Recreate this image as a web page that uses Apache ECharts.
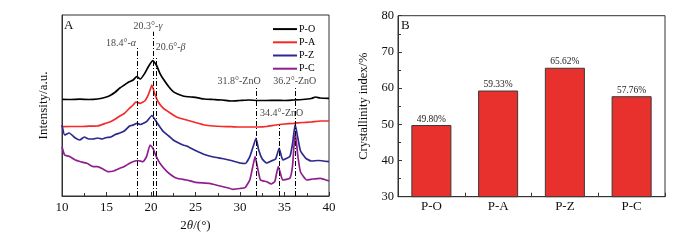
<!DOCTYPE html>
<html><head><meta charset="utf-8">
<script src="https://cdn.jsdelivr.net/npm/echarts@6/dist/echarts.min.js"></script>
<style>html,body{margin:0;padding:0;background:#fff}#c{width:700px;height:240px}</style>
</head><body><div id="c"></div>
<script>
// ---- Panel A: XRD patterns (2θ, relative intensity in arbitrary units) ----
const poTheta = [10,11,12,13,14,15,15.5,16,16.5,17,17.5,18,18.4,18.8,19.3,19.7,20.2,20.6,21,21.4,22,22.5,23,23.6,24.5,25,26,27,28,29,30,31,32,33,34,35,36,37,38,38.5,39,40];
const poI     = [96.7,96.5,96.8,96.5,97,99,101,104,108,111,114,116,119.5,117,122.7,129.3,135.3,131,122.7,116.7,109.3,104.3,102,100,99,98.7,97,96.5,96,95,95.5,96,95.5,95.5,95.7,95.5,96,96.5,97.5,99,98,97.7];
const paTheta = [10,11,12,13,14,15,15.5,16,16.5,17,17.5,18,18.3,18.8,19.3,19.6,19.9,20.1,20.4,20.8,21.4,22,22.5,23,24,25,26,27,28,29,30,31,32,33,34,35,36,37,38,39,40];
const paI     = [69.3,69.5,69.5,69.8,70,73,74.5,77,80,82.5,87,91,94,92.7,95,99.3,106,111,102.7,94.3,87.7,84,81,78.5,76,73.5,71,70,69.5,69.3,69,69,69,69.5,71,72,72.7,73.5,74,75,75];
const pzTheta = [10,10.3,10.8,11.5,12,12.5,13,13.5,14,14.5,15,15.5,16,16.5,17,17.6,18,18.4,18.8,19.5,20.1,20.6,21,21.4,22,22.5,23,23.6,24,25,26,27,28,29,30,30.6,31.1,31.5,31.8,32.1,32.5,33,33.5,34,34.4,34.8,35.2,35.6,35.9,36.2,36.5,36.8,37.4,38,38.8,40];
const pzI     = [71,61,63,58,56,59,57,57,58,57,58.5,59,61.5,63,65,70,71,72.7,71.5,74.3,80.5,74.3,69,64.3,60,56,53.5,51,50,45.5,41.5,39,37.5,35.5,33,32.5,39.3,50,57.7,46,37,33,35,37,47.7,36,37.5,39.3,52,71.7,58,45,37.7,35,35.5,34.3];
const pcTheta = [10,10.3,10.9,11.5,12,12.8,13.5,14,14.5,15.2,15.8,16.5,17,17.6,18.2,18.5,19.1,19.5,19.9,20.2,20.6,21,21.8,22.5,23,24,25,26.6,27.5,28.5,29.2,30,30.6,31.1,31.4,31.7,32,32.3,33,33.5,33.9,34.1,34.3,34.5,34.8,35.6,35.9,36.2,36.5,36.8,37.5,38.2,39,39.5,40];
const pcI     = [49.3,41,39.3,36,34.5,32.7,29.3,29.3,27.5,24.3,25,27.7,29.5,32.7,35,35.5,34.3,39.3,51,48,39.3,32.7,24.3,19.5,17.5,16,13.7,12.7,10.5,8.5,6.7,7.5,8.7,16,28,39.3,27,16,14.3,12,14.3,22,29.3,24,16,17.7,30,64,40,24,16,17,17.7,16.5,15];
const seriesNames = ['P-O','P-A','P-Z','P-C'];
// reference peak positions (2θ) and the intensity where each dash-dot line starts
const peakTheta = [18.4,20.3,20.6,31.8,34.4,36.2];
const peakTop   = [149.3,164.3,139,110,71,110];
// peak annotation texts and their anchor (2θ, intensity)
const annText  = ['18.4°-{i|α}','20.3°-{i|γ}','20.6°-{i|β}','31.8°-ZnO','34.4°-ZnO','36.2°-ZnO'];
const annTheta = [16.63,19.66,22.21,29.89,34.68,36.15];
const annI     = [152.7,169.3,148.3,114.3,82.7,114.3];
const xTicksA = [10,15,20,25,30,35,40];

// ---- Panel B: crystallinity index ----
const samples = ['P-O','P-A','P-Z','P-C'];
const crystallinity = [49.80,59.33,65.62,57.76];
const yTicksB = [30,40,50,60,70,80];

const FONT = 'Liberation Serif';
const colors = ['#000000','#f42a2a','#2c2a8c','#8e1f8e'];
const pairs = (xs, ys) => xs.map((x,i)=>[x, ys[i]]);
const curves = [pairs(poTheta,poI), pairs(paTheta,paI), pairs(pzTheta,pzI), pairs(pcTheta,pcI)];

const chart = echarts.init(document.getElementById('c'), null, {renderer:'canvas'});
const axisLine = {show:true, lineStyle:{color:'#333', width:1}};
const option = {
  animation:false,
  textStyle:{fontFamily:FONT},
  grid:[
    {left:62, top:15, width:267, height:181, show:true, borderColor:'#333', borderWidth:1, backgroundColor:'transparent'},
    {left:398, top:15.7, width:267, height:181, show:true, borderColor:'#333', borderWidth:1, backgroundColor:'transparent'}
  ],
  legend:{
    data:seriesNames, orient:'vertical', left:268, top:18, itemWidth:24, itemHeight:2, itemGap:1,
    icon:'rect', textStyle:{fontFamily:FONT, fontSize:10, color:'#000', lineHeight:12.2, padding:[0,0,0,-3]}
  },
  xAxis:[
    {gridIndex:0, type:'value', min:xTicksA[0], max:xTicksA[xTicksA.length-1], interval:5,
     axisLine:axisLine, axisTick:{show:true, inside:true, length:4, lineStyle:{color:'#333'}},
     minorTick:{show:true, splitNumber:2, length:3, lineStyle:{color:'#333'}},
     splitLine:{show:false}, axisLabel:{fontFamily:FONT, fontSize:13, color:'#111', margin:5},
     name:'2{i|θ}/(°)', nameLocation:'middle', nameGap:15,
     nameTextStyle:{fontFamily:FONT, fontSize:13, color:'#111', rich:{i:{fontFamily:FONT, fontStyle:'italic', fontSize:13, color:'#111'}}}},
    {gridIndex:1, type:'category', data:samples, axisLine:axisLine,
     axisTick:{show:true, inside:true, length:4, alignWithLabel:false, lineStyle:{color:'#333'}},
     axisLabel:{fontFamily:FONT, fontSize:13, color:'#111', margin:3}},
    {gridIndex:1, type:'category', data:samples, position:'bottom', axisLine:{show:false},
     axisTick:{show:true, inside:true, length:4, alignWithLabel:true, lineStyle:{color:'#333'}},
     axisLabel:{show:false}}
  ],
  yAxis:[
    {gridIndex:0, type:'value', min:0, max:181, axisLine:axisLine, axisTick:{show:false}, axisLabel:{show:false}, splitLine:{show:false},
     name:'Intensity/a.u.', nameLocation:'middle', nameGap:12, nameTextStyle:{fontFamily:FONT, fontSize:13, color:'#111'}},
    {gridIndex:1, type:'value', min:yTicksB[0], max:yTicksB[yTicksB.length-1], interval:10, axisLine:axisLine,
     axisTick:{show:true, inside:true, length:4, lineStyle:{color:'#333'}},
     minorTick:{show:true, splitNumber:2, length:3, lineStyle:{color:'#333'}},
     splitLine:{show:false}, axisLabel:{fontFamily:FONT, fontSize:12.5, color:'#111', margin:4},
     name:'Crystallinity index/%', nameLocation:'middle', nameGap:28, nameTextStyle:{fontFamily:FONT, fontSize:12.5, color:'#111'}}
  ],
  series:[
    ...curves.map((d,i)=>({
      name:seriesNames[i], type:'line', xAxisIndex:0, yAxisIndex:0, data:d, showSymbol:false, symbol:'none',
      smooth:0.15, lineStyle:{color:colors[i], width:1.7}, itemStyle:{color:colors[i]}, z:2
    })),
    {name:'peaks', type:'line', xAxisIndex:0, yAxisIndex:0, data:[], z:5,
     markLine:{symbol:['none','none'], silent:true, label:{show:false},
       lineStyle:{color:'#000', width:1, type:[5,2,1,2]},
       data: peakTheta.map((t,i)=>[{coord:[t,0]},{coord:[t,peakTop[i]]}])}},
    {name:'annotations', type:'scatter', xAxisIndex:0, yAxisIndex:0, symbolSize:0, z:6,
     data: annText.map((s,i)=>[annTheta[i], annI[i], s]),
     label:{show:true, position:'inside', formatter:p=>p.data[2], fontFamily:FONT, fontSize:10, color:'#111',
       rich:{i:{fontFamily:FONT, fontStyle:'italic', fontSize:10, color:'#111'}}}},
    {name:'crystallinity', type:'bar', xAxisIndex:1, yAxisIndex:1, data:crystallinity, barWidth:'60%',
     itemStyle:{color:'#e8302d', borderColor:'#3a3a3a', borderWidth:1},
     label:{show:true, position:'top', distance:1, formatter:p=>p.value.toFixed(2)+'%', fontFamily:FONT, fontSize:9.5, color:'#222'}}
  ],
  graphic:[
    {type:'text', left:64, top:19, style:{text:'A', font:'13px "Liberation Serif"', fill:'#111'}},
    {type:'text', left:401, top:19, style:{text:'B', font:'13px "Liberation Serif"', fill:'#111'}}
  ]
};
chart.setOption(option);
</script></body></html>
